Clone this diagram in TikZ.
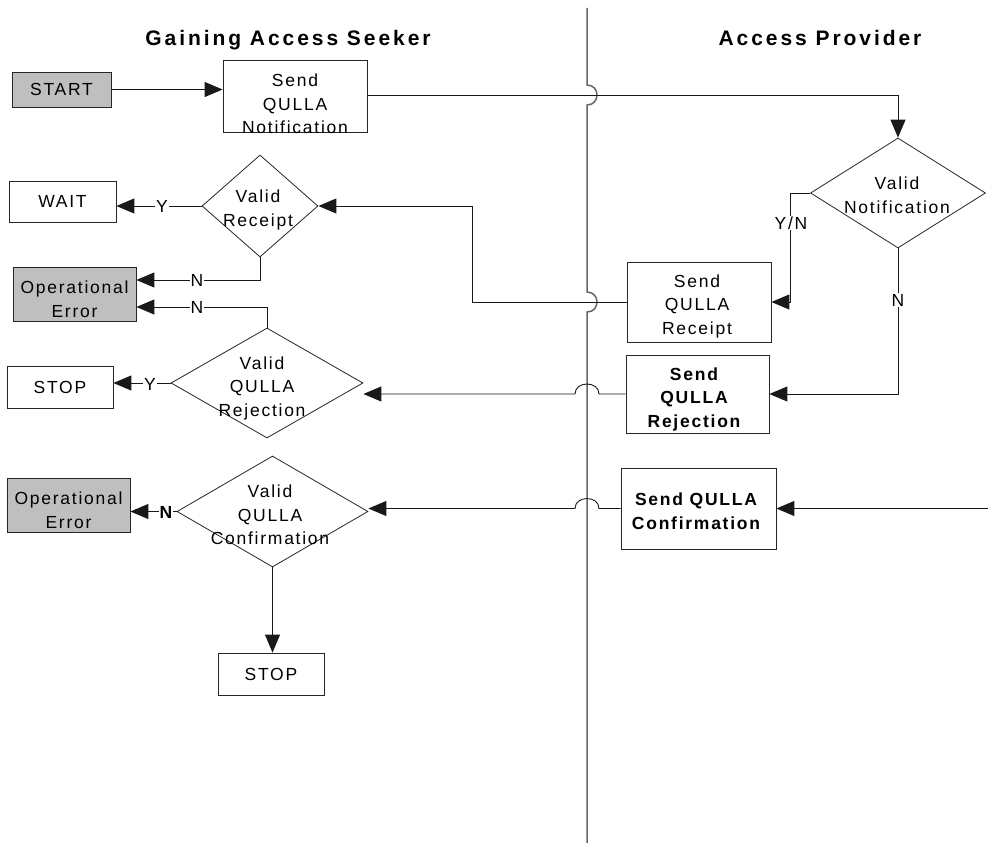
\documentclass[tikz,border=0pt]{standalone}
\usepackage{fontspec}
\setmainfont{Liberation Sans}[LetterSpace=10]
\newfontfamily\titlef{Liberation Sans}[LetterSpace=14]
\usetikzlibrary{arrows.meta,shapes.geometric}
\tikzset{
  box/.style={draw=black!85, line width=0.8pt, inner sep=0pt, rectangle},
  grey/.style={fill=black!25},
  dia/.style={draw=black!85, line width=0.8pt, diamond, inner sep=0pt},
  txt/.style={align=center, font=\fontsize{17.5}{23.5}\selectfont, inner sep=0pt},
  btxt/.style={align=center, font=\fontsize{17.5}{23.5}\selectfont\bfseries, inner sep=0pt},
  lbl/.style={fill=white, inner sep=1pt, font=\fontsize{17.5}{20}\selectfont},
  blbl/.style={fill=white, inner sep=1pt, font=\fontsize{17.5}{20}\selectfont\bfseries},
  flow/.style={line width=0.9pt, draw=black!90, -{Triangle[length=18pt,width=15pt]}},
  lane/.style={draw=black!60, line width=1.5pt},
  title/.style={font=\titlef\fontsize{21}{25}\selectfont\bfseries, anchor=base, inner sep=0pt},
}
\begin{document}
\begin{tikzpicture}[x=1pt,y=-1pt]
\fill[white] (0,0) rectangle (988,843);
\useasboundingbox (0,0) rectangle (988,843);

% titles
\node[title] (tseek) at (288,46) {Gaining Access Seeker};
\node[title] (tprov) at (820,46) {Access Provider};

% swim lane divider with hops
\coordinate (laneTop) at (587,8);
\coordinate (laneBot) at (587,843);
\draw[lane] (laneTop) -- (587,85) .. controls (600.3,85) and (600.3,105) .. (587,105)
  -- (587,292) .. controls (600.3,292) and (600.3,312) .. (587,312) -- (laneBot);

% boxes
\node[box,grey,txt,minimum width=99,minimum height=35] (start) at (61.5,89.5) {START};
\node[box,minimum width=144,minimum height=72] (sendnot) at (295,96) {};
\node[txt] (sendnotT) at (295,104) {Send\\QULLA\\Notification};

\node[dia,minimum width=175,minimum height=110] (vnot) at (898,193) {};
\node[txt] (vnotT) at (897,195) {Valid\\Notification};

\node[box,minimum width=144,minimum height=80] (srec) at (699,302) {};
\node[txt] (srecT) at (697,306) {Send\\QULLA\\Receipt};

\node[box,minimum width=143,minimum height=78] (srej) at (697.5,394) {};
\node[btxt] (srejT) at (694,399) {Send\\QULLA\\Rejection};

\node[box,minimum width=155,minimum height=81] (sconf) at (698.5,508.5) {};
\node[btxt] (sconfT) at (696,511) {Send QULLA\\Confirmation};

\node[dia,minimum width=116,minimum height=102] (vrec) at (260,206) {};
\node[txt] (vrecT) at (258,210) {Valid\\Receipt};

\node[box,txt,minimum width=107,minimum height=41] (wait) at (62.5,201.5) {WAIT};

\node[box,grey,minimum width=123,minimum height=54] (operr1) at (74.5,294) {};
\node[txt] (operr1T) at (74.5,299) {Operational\\Error};

\node[dia,minimum width=192,minimum height=110] (vrejd) at (267,383) {};
\node[txt] (vrejdT) at (262,388) {Valid\\QULLA\\Rejection};

\node[box,txt,minimum width=106,minimum height=42] (stop1) at (60,387) {STOP};

\node[dia,minimum width=191,minimum height=111] (vconf) at (272.5,511.5) {};
\node[txt] (vconfT) at (270,515) {Valid\\QULLA\\Confirmation};

\node[box,grey,minimum width=123,minimum height=54] (operr2) at (68.5,505) {};
\node[txt] (operr2T) at (68.5,510) {Operational\\Error};

\node[box,txt,minimum width=106,minimum height=42] (stop2) at (271,674) {STOP};

\coordinate (confsrc) at (988,508.5);

% connectors
\draw[flow] (start.east) -- (start.east -| sendnot.west);
\draw[flow] (sendnot.east |- 0,95) -| (vnot.north);
\draw[flow] (vnot.west) -- ++(-20,0) |- (srec.east);
\draw[flow] (vnot.south) |- (srej.east);
\draw[flow] (srec.west) -- ++(-154,0) |- (vrec.east);
\draw[flow] (srej.west) -- (599,394) .. controls (599,380.7) and (575,380.7) .. (575,394)
  -- (srej.west -| vrejd.east);
\draw[flow] (confsrc) -- (sconf.east |- confsrc);
\draw[flow] (sconf.west |- confsrc) -- (599,508.5) .. controls (599,495.2) and (575,495.2) .. (575,508.5)
  -- (confsrc -| vconf.east);
\draw[flow] (vrec.west) -- (vrec.west -| wait.east);
\draw[flow] (vrec.south) |- ([yshift=14pt]operr1.east);
\draw[flow] (vrejd.north) |- ([yshift=-13pt]operr1.east);
\draw[flow] (vrejd.west) -- (vrejd.west -| stop1.east);
\draw[flow] (vconf.west) -- (vconf.west -| operr2.east);
\draw[flow] (vconf.south) -- (vconf.south |- stop2.north);

% labels
\node[lbl] (ly1) at (162,206) {Y};
\node[lbl] (lyn) at (791,223) {Y/N};
\node[lbl] (ln1) at (898,300) {N};
\node[lbl] (ln2) at (197,280) {N};
\node[lbl] (ln3) at (197,307) {N};
\node[lbl] (ly2) at (150,384) {Y};
\node[blbl] (ln4) at (166,512) {N};
\end{tikzpicture}
\end{document}
